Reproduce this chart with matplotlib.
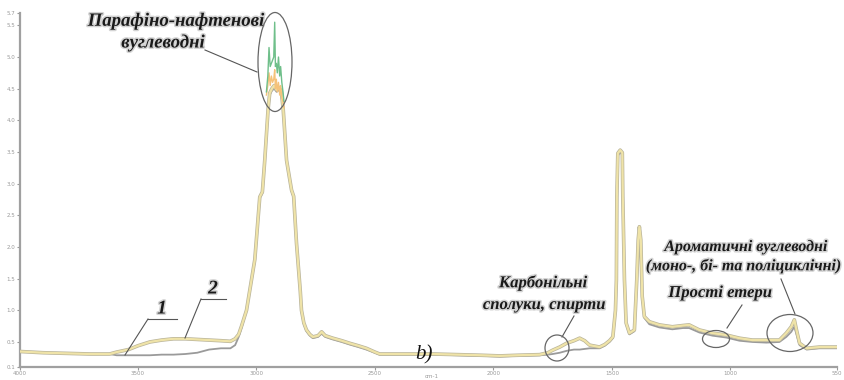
import matplotlib
matplotlib.use("Agg")
import matplotlib.pyplot as plt
from matplotlib.patches import Ellipse
from matplotlib.lines import Line2D
import matplotlib.patheffects as pe

W, H = 845, 380

# wavenumber grid (cm-1) shared by both spectra
wn = [4000, 3900, 3800, 3700, 3620, 3590, 3540, 3500, 3450, 3400, 3350, 3300,
      3250, 3200, 3150, 3110, 3090, 3075, 3063, 3042, 3007, 2986, 2975, 2965,
      2951, 2944, 2935, 2925, 2915, 2905, 2895, 2887, 2873, 2852, 2843, 2831,
      2815, 2810, 2800, 2789, 2775, 2762, 2740, 2725, 2710, 2678, 2640, 2607,
      2570, 2536, 2500, 2480, 2400, 2300, 2256, 2150, 2050, 1973, 1900, 1805,
      1770, 1750, 1720, 1691, 1660, 1636, 1615, 1594, 1552, 1530, 1510, 1496,
      1485, 1481, 1479, 1475, 1465, 1456, 1454, 1447, 1440, 1426, 1405, 1395,
      1389, 1384, 1378, 1372, 1363, 1342, 1300, 1245, 1200, 1174, 1131, 1076,
      1017, 962, 907, 848, 793, 764, 743, 730, 721, 708, 678, 624, 552]

# spectrum 2 (upper, yellow)
a2 = [0.35, 0.33, 0.32, 0.31, 0.31, 0.34, 0.38, 0.44, 0.50, 0.53, 0.55, 0.55,
      0.54, 0.53, 0.52, 0.51, 0.55, 0.62, 0.75, 1.00, 1.80, 2.79, 2.87, 3.37,
      4.17, 4.43, 4.50, 4.55, 4.48, 4.52, 4.45, 4.17, 3.37, 2.90, 2.80, 2.06,
      1.30, 1.00, 0.80, 0.69, 0.62, 0.58, 0.60, 0.66, 0.60, 0.56, 0.52, 0.48,
      0.44, 0.40, 0.34, 0.31, 0.31, 0.31, 0.31, 0.30, 0.29, 0.28, 0.29, 0.30,
      0.33, 0.37, 0.42, 0.48, 0.52, 0.56, 0.52, 0.45, 0.42, 0.46, 0.52, 0.58,
      1.00, 1.48, 2.80, 3.48, 3.53, 3.49, 2.80, 1.48, 0.80, 0.64, 0.69, 1.48,
      2.11, 2.32, 2.11, 1.22, 0.90, 0.82, 0.77, 0.74, 0.76, 0.77, 0.69, 0.64,
      0.61, 0.56, 0.53, 0.53, 0.53, 0.64, 0.74, 0.85, 0.69, 0.48, 0.40, 0.42, 0.42]

# spectrum 1 (lower, grey)
a1 = [0.35, 0.33, 0.32, 0.31, 0.31, 0.29, 0.29, 0.29, 0.29, 0.30, 0.30, 0.31,
      0.33, 0.38, 0.40, 0.40, 0.45, 0.58, 0.72, 1.00, 1.78, 2.77, 2.85, 3.35,
      4.15, 4.40, 4.47, 4.50, 4.45, 4.48, 4.42, 4.15, 3.35, 2.88, 2.78, 2.04,
      1.28, 0.98, 0.78, 0.67, 0.60, 0.56, 0.58, 0.63, 0.58, 0.54, 0.50, 0.46,
      0.42, 0.38, 0.33, 0.30, 0.30, 0.30, 0.30, 0.29, 0.28, 0.27, 0.28, 0.29,
      0.30, 0.31, 0.33, 0.36, 0.38, 0.38, 0.39, 0.40, 0.40, 0.44, 0.50, 0.56,
      0.98, 1.45, 2.75, 3.44, 3.50, 3.45, 2.76, 1.45, 0.78, 0.62, 0.67, 1.45,
      2.08, 2.28, 2.08, 1.20, 0.88, 0.78, 0.73, 0.70, 0.72, 0.72, 0.65, 0.60,
      0.57, 0.52, 0.50, 0.49, 0.50, 0.58, 0.66, 0.74, 0.62, 0.45, 0.38, 0.40, 0.40]

# spiky tops of the C-H band
top_wn = [2958, 2952, 2947, 2942, 2937, 2932, 2927, 2923, 2920, 2916, 2912,
          2907, 2902, 2898, 2893, 2888, 2884]
green_a = [4.45, 4.70, 5.15, 4.85, 4.90, 4.95, 5.00, 5.55, 4.85, 4.90, 4.75,
           5.00, 4.70, 4.85, 4.60, 4.45, 4.30]
orange_a = [4.40, 4.55, 4.75, 4.55, 4.70, 4.60, 4.65, 4.80, 4.50, 4.65, 4.45,
            4.60, 4.40, 4.55, 4.35, 4.30, 4.20]

x_ticks = [4000, 3500, 3000, 2500, 2000, 1500, 1000, 550]
y_ticks = [0.1, 0.5, 1.0, 1.5, 2.0, 2.5, 3.0, 3.5, 4.0, 4.5, 5.0, 5.5, 5.7]


def px(x, y):
    # pixel position in the picture -> figure fraction
    return x / W, 1 - y / H


fig = plt.figure(figsize=(W / 100, H / 100), dpi=100)
ax = fig.add_axes([19.5 / W, 12.7 / H, (837 - 19.5) / W, (367.3 - 12.7) / H])

ax.plot(wn, a1, color='#9a9a9a', lw=1.3, zorder=2)
ax.plot(wn, a2, color='#efe3a8', lw=1.6, zorder=3,
        path_effects=[pe.Stroke(linewidth=2.6, foreground='#b8b39a'), pe.Normal()])
ax.plot(top_wn, orange_a, color='#f5c27a', lw=1.0, zorder=4)
ax.plot(top_wn, green_a, color='#6fbf8a', lw=1.0, zorder=5)

ax.set_xlim(4000, 550)
ax.set_ylim(0.1, 5.7)
ax.set_xticks(x_ticks)
ax.set_xticklabels([str(t) for t in x_ticks])
ax.set_yticks(y_ticks)
ax.set_yticklabels([f'{t:.1f}' for t in y_ticks])
ax.tick_params(labelsize=4, colors='#999999', length=2, width=0.8, pad=1)
for s in ['top', 'right']:
    ax.spines[s].set_visible(False)
for s in ['left', 'bottom']:
    ax.spines[s].set_color('#a0a0a0')
    ax.spines[s].set_linewidth(1.6)
fig.text(*px(432, 377), 'cm-1', fontsize=4, color='#999999', ha='center', va='center')

halo = [pe.withStroke(linewidth=2.2, foreground='#d4d4d4')]
tkw = dict(family='Liberation Serif', fontweight='bold', fontstyle='italic',
           color='#1a1a1a', ha='center', va='center', path_effects=halo)

fig.text(*px(176, 21), 'Парафіно-нафтенові', fontsize=13.5, **tkw)
fig.text(*px(163, 43), 'вуглеводні', fontsize=13.5, **tkw)
fig.text(*px(543, 283), 'Карбонільні', fontsize=12, **tkw)
fig.text(*px(544, 305), 'сполуки, спирти', fontsize=12, **tkw)
fig.text(*px(746, 247), 'Ароматичні вуглеводні', fontsize=11.5, **tkw)
fig.text(*px(744, 266), '(моно-, бі- та поліциклічні)', fontsize=11.5, **tkw)
fig.text(*px(720, 293), 'Прості етери', fontsize=12, **tkw)
fig.text(*px(162, 309), '1', fontsize=14, **tkw)
fig.text(*px(213, 289), '2', fontsize=14, **tkw)
fig.text(*px(424, 355), 'b)', fontsize=15, family='Liberation Serif',
         fontstyle='italic', color='#111111', ha='center', va='center')

lc = '#555555'
leaders = [
    [(205, 50), (257, 72)],
    [(148, 319), (177, 319)],
    [(148, 319), (125, 355)],
    [(201, 299), (226, 299)],
    [(201, 299), (185, 338)],
    [(562, 337), (574, 316)],
    [(727, 328), (742, 305)],
    [(795, 314), (781, 279)],
]
for (x0, y0), (x1, y1) in leaders:
    p0, p1 = px(x0, y0), px(x1, y1)
    fig.add_artist(Line2D([p0[0], p1[0]], [p0[1], p1[1]], color=lc, lw=0.8,
                          transform=fig.transFigure))

ellipses = [((275, 62), 34, 99), ((557, 348), 24, 26), ((716, 339), 27, 17),
            ((790, 333), 46, 37)]
for (cx, cy), w, h in ellipses:
    fig.add_artist(Ellipse(px(cx, cy), w / W, h / H, fill=False, edgecolor='#666666',
                           lw=0.9, transform=fig.transFigure, zorder=6))

plt.savefig('out.png', dpi=100)
